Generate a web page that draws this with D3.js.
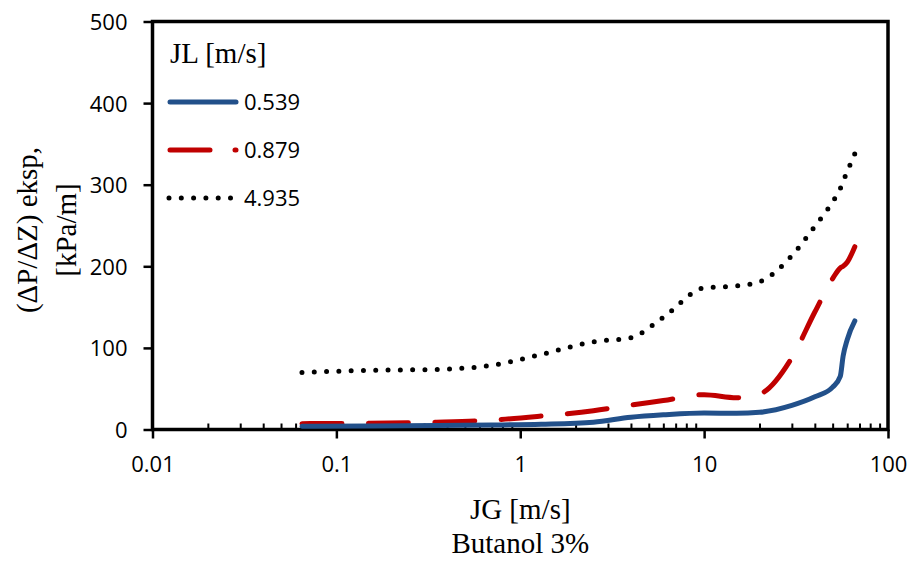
<!DOCTYPE html>
<html lang="en">
  <head>
    <meta charset="UTF-8" />
    <title>Butanol 3%</title>
    <style>
      body { margin: 0; background: #fff; }
      .tick-lbl { font-family: "Open Sans", sans-serif; font-size: 22px; fill: #000; }
      .serif { font-family: "Times New Roman", "Liberation Serif", serif; font-size: 29px; fill: #000; }
    </style>
  </head>
  <body>
    <div id="wrapper"></div>
    <script src="https://d3js.org/d3.v7.min.js"></script>
    <script>
      // JG [m/s] values and the three JL series
      const jg = [0.065, 0.15, 0.35, 0.7, 1.3, 2.5, 4, 6, 10, 15, 20, 30, 40, 50, 55, 57, 60, 66];
      const dp0539 = [4, 4.3, 4.8, 5.5, 6.5, 9, 15, 18, 20.3, 19.8, 21, 29.5, 40, 52, 65, 90, 110, 133];
      const dp0879 = [7.2, 7.6, 9, 11.5, 16.5, 23, 30, 35.5, 42.7, 39, 43.5, 88, 144, 185, 198, 200, 205, 224];
      const dp4935 = [70, 72.5, 73.6, 78.7, 92, 107.5, 112.5, 137.5, 173.5, 176, 181, 213, 249, 279, 295, 304, 316, 338];

      const seriesNames = ["0.539", "0.879", "4.935"];
      const xTickLabels = ["0.01", "0.1", "1", "10", "100"];
      const yTickLabels = ["0", "100", "200", "300", "400", "500"];

      var width = 912, height = 563;
      var plotL = 152.5, plotR = 888, plotT = 21.5, plotB = 429.5;

      var svg = d3.select("#wrapper")
        .append("svg")
          .attr("width", width)
          .attr("height", height);

      var x = d3.scaleLog().domain([0.01, 100]).range([plotL, plotR]);
      var y = d3.scaleLinear().domain([0, 500]).range([plotB, plotT]);

      // minor x ticks (inside), major x ticks (outside)
      var majors = xTickLabels.map(Number);
      var minors = x.ticks().filter(function (d) { return majors.indexOf(d) < 0; });

      var minorAxis = svg.append("g")
        .attr("transform", "translate(0," + plotB + ")")
        .call(d3.axisBottom(x).tickValues(minors).tickSize(-6).tickFormat(""));
      minorAxis.select(".domain").remove();
      minorAxis.selectAll("line").attr("stroke", "#000").attr("stroke-width", 2);

      var xAxis = svg.append("g")
        .attr("transform", "translate(0," + plotB + ")")
        .call(d3.axisBottom(x).tickValues(majors).tickSize(9).tickPadding(0)
          .tickFormat(function (d, i) { return xTickLabels[i]; }));
      xAxis.select(".domain").remove();
      xAxis.selectAll("line").attr("stroke", "#000").attr("stroke-width", 2.5);
      xAxis.selectAll("text")
        .attr("class", "tick-lbl")
        .attr("y", 42)
        .attr("dy", null);

      var yAxis = svg.append("g")
        .attr("transform", "translate(" + plotL + ",0)")
        .call(d3.axisLeft(y).tickValues(yTickLabels.map(Number)).tickSize(9).tickPadding(16)
          .tickFormat(function (d, i) { return yTickLabels[i]; }));
      yAxis.select(".domain").remove();
      yAxis.selectAll("line").attr("stroke", "#000").attr("stroke-width", 2.5);
      yAxis.selectAll("text")
        .attr("class", "tick-lbl")
        .attr("dy", "0.36em");

      // plot frame
      svg.append("rect")
        .attr("x", plotL)
        .attr("y", plotT)
        .attr("width", plotR - plotL)
        .attr("height", plotB - plotT)
        .attr("fill", "none")
        .attr("stroke", "#000")
        .attr("stroke-width", 3.5);

      var styles = [
        { color: "#22508a", dash: null, width: 5 },
        { color: "#c00000", dash: "40,25", width: 5 },
        { color: "#000", dash: "0,12.3", width: 5 }
      ];
      var allSeries = [dp0539, dp0879, dp4935];

      var line = d3.line()
        .x(function (d) { return x(d[0]); })
        .y(function (d) { return y(d[1]); })
        .curve(d3.curveMonotoneX);

      // dotted first, then dashed, solid on top
      [2, 1, 0].forEach(function (k) {
        var pts = jg.map(function (g, i) { return [g, allSeries[k][i]]; });
        var p = svg.append("path")
          .datum(pts)
          .attr("d", line)
          .attr("fill", "none")
          .attr("stroke", styles[k].color)
          .attr("stroke-width", styles[k].width)
          .attr("stroke-linecap", "round")
          .attr("stroke-linejoin", "round")
          .attr("stroke-dasharray", styles[k].dash);
        if (k == 1) {
          // stretch the gaps a little so the dashed line ends on a dash
          var len = p.node().getTotalLength();
          var n = Math.round((len - 40) / 65);
          var gap = (len - 40) / n - 40;
          p.attr("stroke-dasharray", "40," + gap);
        }
      });

      // legend
      svg.append("text")
        .attr("class", "serif")
        .attr("x", 170)
        .attr("y", 63)
        .text("JL [m/s]");

      var legendY = [102, 150, 198];
      var legendX1 = [170, 170, 169];
      var legendX2 = [236, 236, 231];
      seriesNames.forEach(function (name, k) {
        svg.append("line")
          .attr("x1", legendX1[k])
          .attr("x2", legendX2[k])
          .attr("y1", legendY[k])
          .attr("y2", legendY[k])
          .attr("stroke", styles[k].color)
          .attr("stroke-width", styles[k].width)
          .attr("stroke-linecap", "round")
          .attr("stroke-dasharray", styles[k].dash);
        svg.append("text")
          .attr("class", "tick-lbl")
          .attr("x", 244)
          .attr("y", legendY[k])
          .attr("dy", "0.36em")
          .text(name);
      });

      // axis titles
      var xMid = (plotL + plotR) / 2;
      svg.append("text")
        .attr("class", "serif")
        .attr("text-anchor", "middle")
        .attr("x", xMid)
        .attr("y", 519)
        .text("JG [m/s]");
      svg.append("text")
        .attr("class", "serif")
        .attr("text-anchor", "middle")
        .attr("x", xMid)
        .attr("y", 553)
        .text("Butanol 3%");

      var yTitle = svg.append("text")
        .attr("class", "serif")
        .attr("text-anchor", "middle")
        .attr("transform", "translate(37,230) rotate(-90)");
      yTitle.append("tspan").attr("x", 0).attr("y", 0).text("(ΔP/ΔZ) eksp,");
      yTitle.append("tspan").attr("x", 0).attr("y", 39).text("[kPa/m]");
    </script>
  </body>
</html>
